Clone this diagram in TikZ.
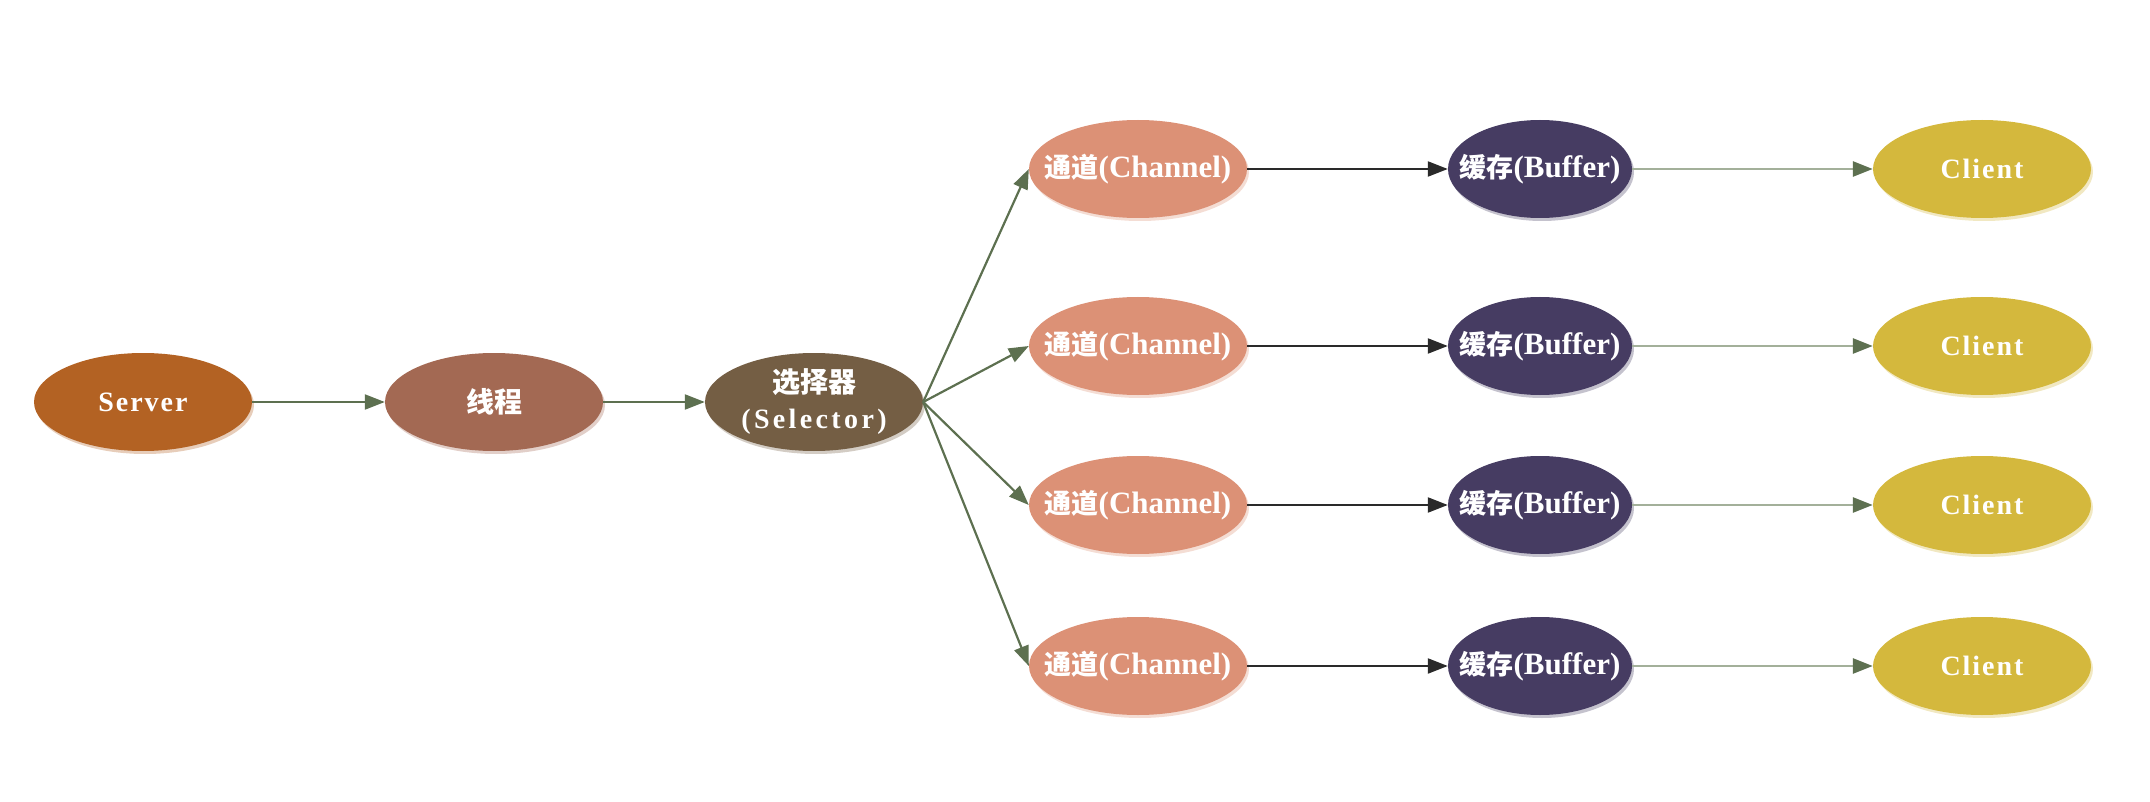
\documentclass[tikz,border=0pt]{standalone}
\usepackage{fontspec}
\setmainfont{Liberation Serif}
\newfontfamily\cjk{Noto Sans CJK SC}
\newfontfamily\widefont{Liberation Serif}[LetterSpace=7]
\newfontfamily\widerfont{Liberation Serif}[LetterSpace=12]
\usetikzlibrary{shapes.geometric,arrows.meta,shadows}
\definecolor{cserver}{HTML}{B36223}
\definecolor{cthread}{HTML}{A36953}
\definecolor{csel}{HTML}{745E44}
\definecolor{cchan}{HTML}{DC9176}
\definecolor{cbuf}{HTML}{463C62}
\definecolor{cclient}{HTML}{D4B83D}
\definecolor{cgreen}{HTML}{5D7050}
\definecolor{clight}{HTML}{A3B09A}
\definecolor{cdark}{HTML}{2A2A2A}
\tikzset{
  bubble/.style={ellipse, inner sep=0pt, draw=none, fill=#1,
    minimum width=218pt, minimum height=98pt,
    drop shadow={shadow xshift=2pt, shadow yshift=-3pt, fill=#1!35!white, opacity=0.9}},
  narrowbubble/.style={bubble=#1, minimum width=184pt},
  lbl/.style={text=white, font=\fontsize{28}{36}\selectfont\bfseries\widefont, inner sep=0pt, align=center},
  lbln/.style={text=white, font=\fontsize{31}{36}\selectfont\bfseries, inner sep=0pt},
  garrow/.style={draw=cgreen, line width=2.2pt, -{Triangle[length=20pt, width=15pt]}},
  darrow/.style={draw=cdark, line width=2.2pt, -{Triangle[length=20pt, width=15pt]}},
  larrow/.style={draw=clight, line width=2.8pt, -{Triangle[length=20pt, width=15pt, color=cgreen]}},
}
\begin{document}
\begin{tikzpicture}[x=1pt, y=-1pt]
\useasboundingbox (0,0) rectangle (2150,802);
\node[bubble=cserver, label={[lbl]center:Server}] (srv) at (143,402) {};
\node[bubble=cthread, label={[lbl]center:{\cjk\bfseries 线程}}] (thr) at (494,402) {};
\node[bubble=csel, label={[lbl]center:{\cjk\bfseries 选择器}\\{\widerfont\bfseries (Selector)}}] (sel) at (814,402) {};
\foreach \i/\y in {1/169, 2/346, 3/505, 4/666} {
  \node[bubble=cchan, label={[lbln]center:{\cjk\bfseries\fontsize{27}{36}\selectfont 通道}(Channel)}] (ch\i) at (1138,\y) {};
  \node[narrowbubble=cbuf, label={[lbln]center:{\cjk\bfseries\fontsize{27}{36}\selectfont 缓存}(Buffer)}] (bf\i) at (1540,\y) {};
  \node[bubble=cclient, label={[lbl]center:Client}] (cl\i) at (1982,\y) {};
}
\draw[garrow] (srv) -- (thr);
\draw[garrow] (thr) -- (sel);
\foreach \i in {1,2,3,4} {
  \draw[garrow] (sel.east) -- (ch\i.west);
  \draw[darrow] (ch\i) -- (bf\i);
  \draw[larrow] (bf\i) -- (cl\i);
}
\end{tikzpicture}
\end{document}
